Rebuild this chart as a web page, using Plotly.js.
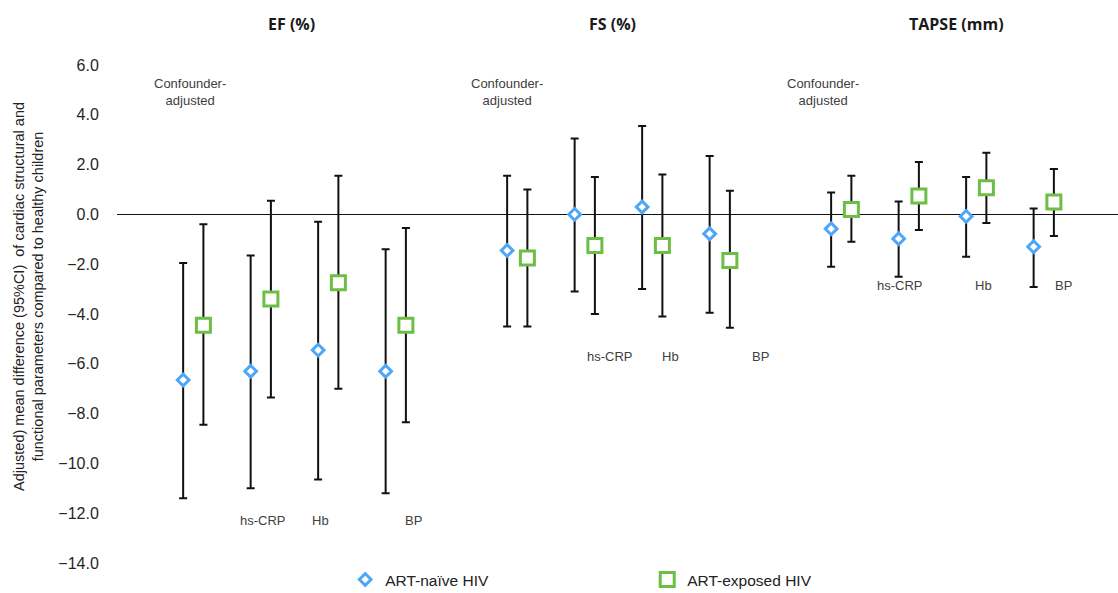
<!DOCTYPE html>
<html>
<head>
<meta charset="utf-8">
<script src="https://cdn.plot.ly/plotly-3.0.1.min.js"></script>
<style>html,body{margin:0;padding:0;background:#fff;}#chart{width:1118px;height:593px;}</style>
</head>
<body>
<div id="chart"></div>
<script>
// ---- data ----
const groups = ["EF (%)", "FS (%)", "TAPSE (mm)"];
const adjustments = ["Confounder-adjusted", "hs-CRP", "Hb", "BP"];
const seriesNames = ["ART-naïve HIV", "ART-exposed HIV"];

// ART-naive HIV: per group, per adjustment
const naiveMean = [-6.65, -6.30, -5.45, -6.30,   -1.45, 0.00, 0.30, -0.78,   -0.58, -0.98, -0.08, -1.30];
const naiveLow  = [-11.40, -11.00, -10.65, -11.20, -4.50, -3.10, -3.00, -3.95, -2.10, -2.50, -1.70, -2.92];
const naiveHigh = [-1.95, -1.65, -0.30, -1.40,   1.55, 3.05, 3.55, 2.35,     0.88, 0.52, 1.50, 0.24];

// ART-exposed HIV
const expMean = [-4.45, -3.40, -2.75, -4.45,   -1.75, -1.25, -1.25, -1.85,   0.20, 0.74, 1.07, 0.50];
const expLow  = [-8.45, -7.35, -7.00, -8.35,   -4.50, -4.00, -4.10, -4.55,   -1.10, -0.63, -0.35, -0.87];
const expHigh = [-0.40, 0.55, 1.55, -0.55,     1.00, 1.50, 1.60, 0.95,       1.55, 2.10, 2.48, 1.82];

const yTickVals = [6, 4, 2, 0, -2, -4, -6, -8, -10, -12, -14];

// ---- layout helpers (positions from category indices) ----
const GROUP_STEP = 4.8, PAIR_OFFSET = 0.3;
const xNaive = [], xExp = [];
groups.forEach((g, gi) => adjustments.forEach((a, ai) => {
  xNaive.push(gi * GROUP_STEP + ai);
  xExp.push(gi * GROUP_STEP + ai + PAIR_OFFSET);
}));

function errs(mean, lo, hi) {
  return {
    type: 'data', symmetric: false,
    array: mean.map((m, i) => hi[i] - m),
    arrayminus: mean.map((m, i) => m - lo[i]),
    color: '#111', thickness: 2, width: 4
  };
}

const traces = [
  {
    type: 'scatter', mode: 'markers', name: seriesNames[0],
    x: xNaive, y: naiveMean,
    error_y: errs(naiveMean, naiveLow, naiveHigh),
    marker: {symbol: 'diamond', size: 9, color: '#ffffff', line: {color: '#4DA6F8', width: 3}},
    hoverinfo: 'y'
  },
  {
    type: 'scatter', mode: 'markers', name: seriesNames[1],
    x: xExp, y: expMean,
    error_y: errs(expMean, expLow, expHigh),
    marker: {symbol: 'square', size: 14, color: '#ffffff', line: {color: '#6DBE45', width: 3}},
    hoverinfo: 'y'
  }
];

const SANS = 'Liberation Sans';
const lblFont = {family: SANS, size: 13, color: '#404040'};
const annotations = [];

// group titles
const titleX = [1.61, 6.36, 11.45];
groups.forEach((g, gi) => annotations.push({
  text: '<b>' + g + '</b>', x: titleX[gi], xref: 'x', y: 1.082, yref: 'paper',
  showarrow: false, xanchor: 'center', yanchor: 'middle',
  font: {family: 'Open Sans', size: 16, color: '#1a1a1a'}
}));

// adjustment labels: x (data units) and y (data units) for each group
const confX = [0.1, 4.8, 9.48];
const labelX = [[1.19, 2.04, 3.41], [6.33, 7.22, 8.55], [10.62, 11.85, 13.04]];
const labelY = [-12.29, -5.70, -2.85];
groups.forEach((g, gi) => {
  annotations.push({
    text: 'Confounder-<br>adjusted', x: confX[gi], y: 4.9, xref: 'x', yref: 'y',
    showarrow: false, xanchor: 'center', yanchor: 'middle', align: 'center', font: lblFont
  });
  adjustments.slice(1).forEach((a, ai) => annotations.push({
    text: a, x: labelX[gi][ai], y: labelY[gi], xref: 'x', yref: 'y',
    showarrow: false, xanchor: 'center', yanchor: 'middle', font: lblFont
  }));
});

// y-axis title
annotations.push({
  text: 'Adjusted) mean difference (95%CI)  of cardiac structural and<br>functional parameters compared to healthy children',
  textangle: -90, xref: 'paper', x: -0.089, yref: 'paper', y: 0.536,
  showarrow: false, xanchor: 'center', yanchor: 'middle', align: 'center',
  font: {family: SANS, size: 14.5, color: '#222'}
});

const layout = {
  width: 1118, height: 593,
  margin: {l: 117, r: 0, t: 65, b: 30, autoexpand: false},
  paper_bgcolor: '#fff', plot_bgcolor: '#fff',
  showlegend: true,
  legend: {
    orientation: 'h', x: 0.228, xanchor: 'left', y: -0.034, yanchor: 'middle',
    entrywidth: 257, entrywidthmode: 'pixels', itemwidth: 30,
    font: {family: SANS, size: 15.5, color: '#222'}
  },
  xaxis: {
    range: [-0.98, 13.85], showgrid: false, zeroline: false, showline: false,
    showticklabels: false, ticks: ''
  },
  yaxis: {
    range: [-14, 6], tickvals: yTickVals, tickformat: '.1f',
    showgrid: false, showline: false,
    zeroline: true, zerolinecolor: '#111', zerolinewidth: 1.5,
    ticks: 'outside', ticklen: 14, tickcolor: 'rgba(0,0,0,0)',
    tickfont: {family: SANS, size: 16, color: '#262626'}
  },
  annotations: annotations
};

Plotly.newPlot('chart', traces, layout, {displayModeBar: false, staticPlot: true});
</script>
</body>
</html>
